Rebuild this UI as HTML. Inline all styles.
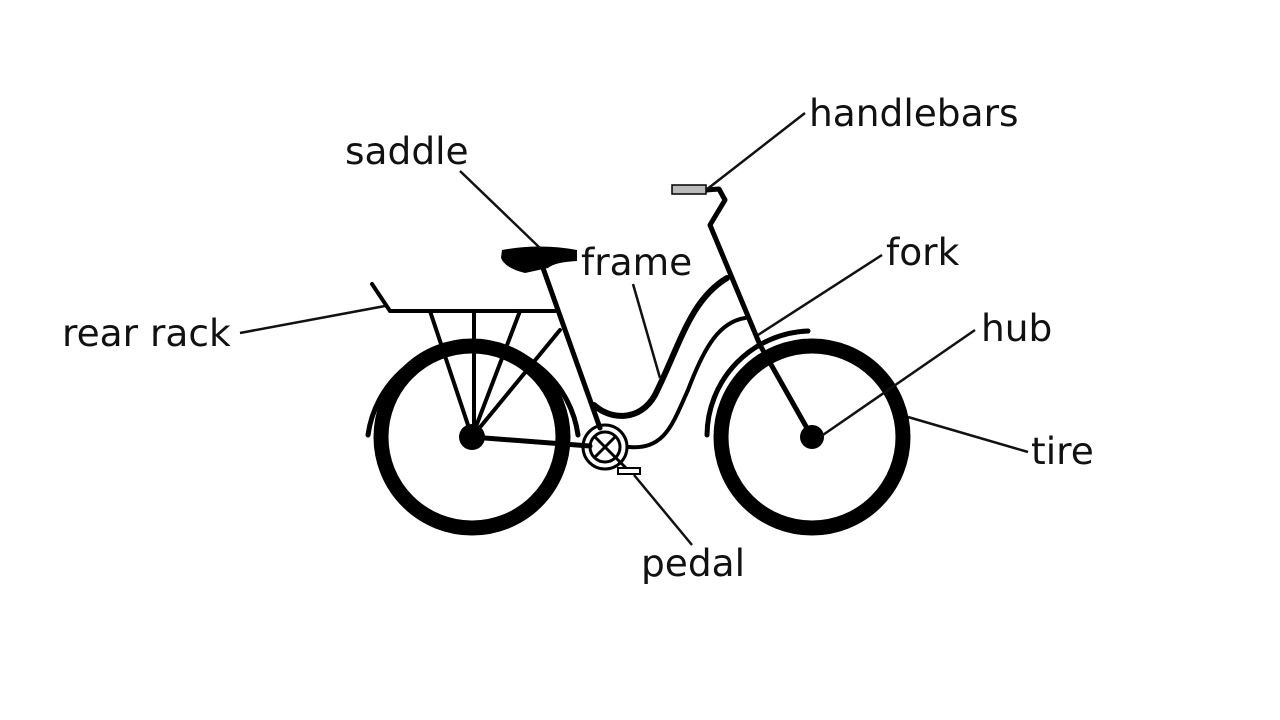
<!DOCTYPE html>
<html><head><meta charset="utf-8"><style>
html,body{margin:0;padding:0;background:#fff;width:1280px;height:720px;overflow:hidden}
svg text{font-family:"DejaVu Sans","Liberation Sans",sans-serif;font-size:37.5px;fill:#111}
</style></head><body>
<svg width="1280" height="720" viewBox="0 0 1280 720">
<g fill="none" stroke="#000" stroke-linecap="round">
 <circle cx="472" cy="437" r="91" stroke-width="15"/>
 <circle cx="812" cy="437" r="91" stroke-width="15"/>
 <path d="M368 435 A106 106 0 0 1 578 435" stroke-width="5"/>
 <path d="M707 435 A105 105 0 0 1 808 331" stroke-width="5"/>
 <circle cx="472" cy="437" r="13" fill="#000" stroke="none"/>
 <circle cx="812" cy="437" r="12" fill="#000" stroke="none"/>
 <path d="M372 284 L390 311 L555 311 M430 311 L472 437 M474 311 L474 437 M520 311 L472 437" stroke-width="4"/>
 <path d="M472 437 L560 330" stroke-width="4"/>
 <path d="M472 437 L590 446" stroke-width="5"/>
 <path d="M543 268 L600 428" stroke-width="5"/>
 <path d="M594 405 C610 420 640 422 655 395 C680 345 690 300 727 278" stroke-width="6"/>
 <path d="M628 447 C665 450 672 425 688 390 C705 345 720 322 745 318" stroke-width="4"/>
 <path d="M812 437 L760 345 L710 225 L725 200 L719 189 L706 190" stroke-width="5" stroke-linejoin="round"/>
 <rect x="672" y="185" width="34" height="9" fill="#bbb" stroke="#000" stroke-width="1.5"/>
 <path d="M502 250 Q540 243 577 250 L577 261 Q555 262 548 268 L525 273 Q505 268 501 258 Z" fill="#000" stroke="none"/>
 <circle cx="605" cy="447" r="22" stroke-width="3"/>
 <circle cx="605" cy="447" r="15" stroke-width="3"/>
 <path d="M596 438 L614 456 M614 438 L596 456 M605 447 L628 470" stroke-width="3"/>
 <rect x="618" y="468" width="22" height="6" fill="#fff" stroke="#000" stroke-width="2"/>
</g>
<g stroke="#111" stroke-width="2.5">
 <line x1="805" y1="113" x2="706" y2="190"/>
 <line x1="460" y1="171" x2="540" y2="248"/>
 <line x1="633" y1="284" x2="660" y2="378"/>
 <line x1="882" y1="255" x2="758" y2="335"/>
 <line x1="975" y1="330" x2="820" y2="437"/>
 <line x1="1028" y1="452" x2="908" y2="417"/>
 <line x1="692" y1="545" x2="634" y2="475"/>
 <line x1="240" y1="333" x2="385" y2="306"/>
</g>
<text x="809" y="126">handlebars</text>
<text x="345" y="164">saddle</text>
<text x="581" y="275">frame</text>
<text x="886" y="265">fork</text>
<text x="981" y="341">hub</text>
<text x="1031" y="464">tire</text>
<text x="641" y="576">pedal</text>
<text x="62" y="346">rear rack</text>
</svg>
</body></html>
